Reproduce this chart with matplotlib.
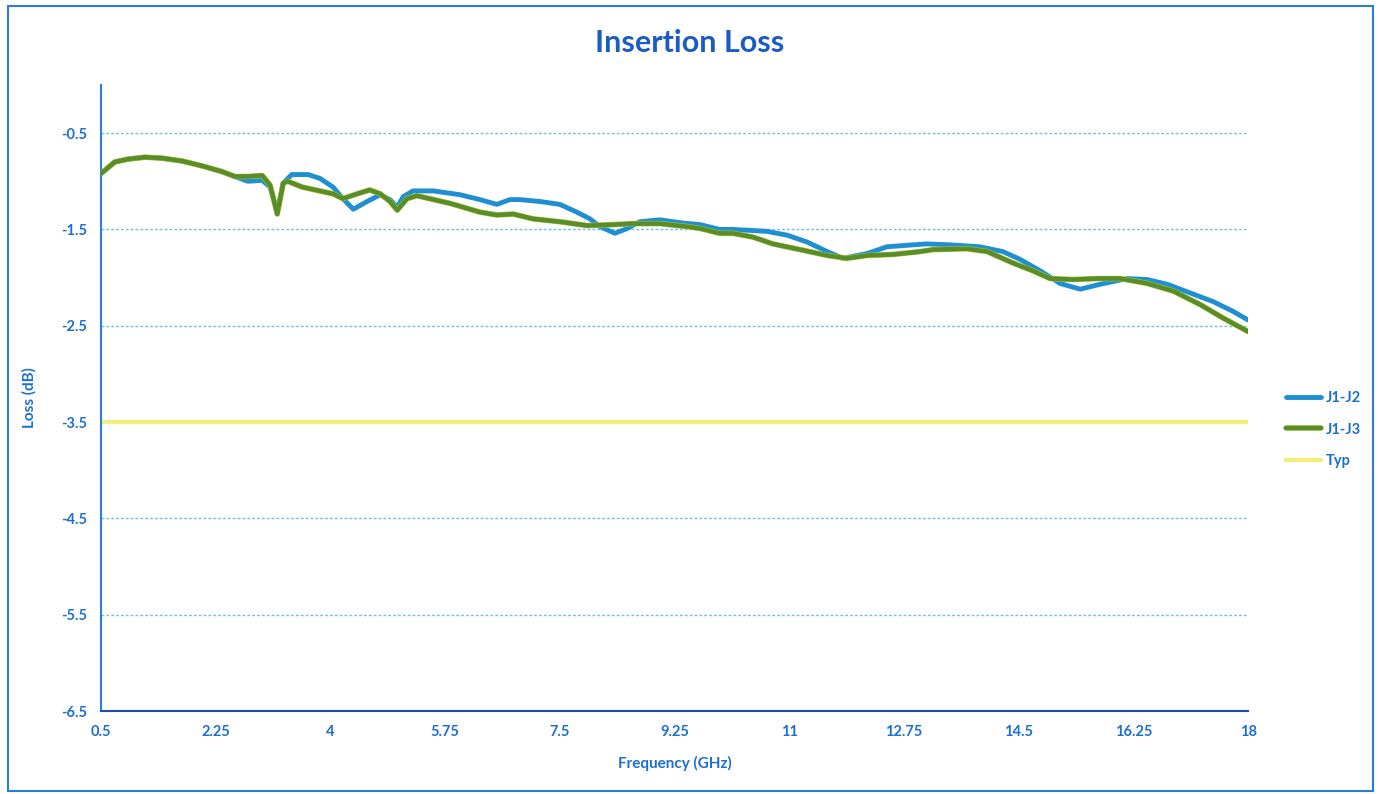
import matplotlib
matplotlib.use("Agg")
import matplotlib.pyplot as plt
from matplotlib.patches import Rectangle
import matplotlib.patheffects as pe

freq_j12 = [0.5, 0.71, 0.91, 1.17, 1.43, 1.74, 2.04, 2.35, 2.54, 2.74, 2.96, 3.08, 3.19, 3.28, 3.41,
            3.66, 3.84, 4.04, 4.19, 4.35, 4.56, 4.76, 4.91, 5.02, 5.11, 5.26, 5.57, 5.98, 6.28, 6.54,
            6.74, 6.89, 7.20, 7.50, 7.76, 7.96, 8.11, 8.34, 8.53, 8.72, 9.03, 9.33, 9.64, 9.94, 10.14,
            10.66, 10.97, 11.27, 11.58, 11.82, 12.19, 12.49, 12.89, 13.10, 13.45, 13.91, 14.26, 14.52,
            14.83, 15.13, 15.44, 15.74, 16.16, 16.46, 16.77, 17.12, 17.47, 17.77, 18.0]
loss_j12 = [-0.92, -0.80, -0.77, -0.75, -0.76, -0.79, -0.84, -0.90, -0.95, -1.00, -0.99, -1.06, -1.32,
            -1.02, -0.93, -0.93, -0.97, -1.06, -1.18, -1.29, -1.21, -1.14, -1.19, -1.27, -1.16, -1.10,
            -1.10, -1.14, -1.19, -1.24, -1.19, -1.19, -1.21, -1.24, -1.32, -1.39, -1.47, -1.54, -1.49,
            -1.42, -1.40, -1.43, -1.45, -1.50, -1.50, -1.52, -1.56, -1.63, -1.73, -1.80, -1.75, -1.68,
            -1.66, -1.65, -1.66, -1.68, -1.73, -1.81, -1.93, -2.06, -2.12, -2.07, -2.01, -2.02, -2.07,
            -2.16, -2.25, -2.35, -2.44]

freq_j13 = [0.5, 0.71, 0.91, 1.17, 1.43, 1.74, 2.04, 2.35, 2.54, 2.74, 2.96, 3.08, 3.19, 3.28, 3.35,
            3.57, 3.77, 4.04, 4.19, 4.41, 4.60, 4.76, 4.91, 5.02, 5.17, 5.32, 5.83, 6.28, 6.54, 6.79,
            7.09, 7.50, 7.92, 8.31, 8.62, 9.03, 9.44, 9.64, 9.94, 10.14, 10.45, 10.75, 11.17, 11.58,
            11.88, 12.19, 12.58, 13.00, 13.19, 13.71, 14.02, 14.42, 14.72, 14.98, 15.33, 15.70, 16.05,
            16.46, 16.86, 17.27, 17.62, 18.0]
loss_j13 = [-0.92, -0.80, -0.77, -0.75, -0.76, -0.79, -0.84, -0.90, -0.95, -0.95, -0.94, -1.04, -1.34,
            -1.02, -1.00, -1.06, -1.09, -1.13, -1.18, -1.13, -1.09, -1.13, -1.21, -1.30, -1.18, -1.15,
            -1.23, -1.32, -1.35, -1.34, -1.39, -1.42, -1.46, -1.45, -1.44, -1.44, -1.47, -1.49, -1.54,
            -1.54, -1.58, -1.65, -1.71, -1.77, -1.80, -1.77, -1.76, -1.73, -1.71, -1.70, -1.73, -1.85,
            -1.93, -2.01, -2.02, -2.01, -2.01, -2.06, -2.14, -2.28, -2.42, -2.56]

freq_typ = [0.5, 18]
loss_typ = [-3.5, -3.5]

x_ticks = [0.5, 2.25, 4, 5.75, 7.5, 9.25, 11, 12.75, 14.5, 16.25, 18]
x_tick_labels = ["0.5", "2.25", "4", "5.75", "7.5", "9.25", "11", "12.75", "14.5", "16.25", "18"]
y_ticks = [-0.5, -1.5, -2.5, -3.5, -4.5, -5.5, -6.5]
y_tick_labels = ["-0.5", "-1.5", "-2.5", "-3.5", "-4.5", "-5.5", "-6.5"]

plt.rcParams['font.family'] = ['Lato', 'DejaVu Sans']
txt_blue = '#1a6fd0'

fig = plt.figure(figsize=(13.87, 7.94), dpi=100)
fig.patch.set_facecolor('white')
fig.patches.append(Rectangle((0.006, 0.004), 0.984, 0.988, transform=fig.transFigure,
                             fill=False, edgecolor='#2a7fd4', linewidth=1.5))

ax = fig.add_axes([0.0728, 0.1045, 0.8270, 0.7885])
ax.set_xlim(0.5, 18)
ax.set_ylim(-6.5, 0)

ax.hlines(y_ticks[:-1], 0.5, 18, colors='#6cc0ee', linestyles=[(0, (2, 1.5))],
          linewidth=1.0, zorder=1)

ax.plot(freq_typ, loss_typ, color='#f4ef78', linewidth=3, label='Typ', zorder=2)
ax.plot(freq_j12, loss_j12, color='#1f8fd2', linewidth=3.5, label='J1-J2', zorder=3,
        solid_capstyle='round', solid_joinstyle='round')
ax.plot(freq_j13, loss_j13, color='#5b8c2a', linewidth=3.2, label='J1-J3', zorder=4,
        solid_capstyle='round', solid_joinstyle='round',
        path_effects=[pe.Stroke(linewidth=4, foreground='#a8c83a'), pe.Normal()])

ax.set_xticks(x_ticks)
ax.set_xticklabels(x_tick_labels)
ax.set_yticks(y_ticks)
ax.set_yticklabels(y_tick_labels)
ax.tick_params(axis='both', length=0, labelsize=10.5, labelcolor=txt_blue)
for lab in ax.get_xticklabels() + ax.get_yticklabels():
    lab.set_fontweight('bold')
ax.tick_params(axis='x', pad=10)
ax.tick_params(axis='y', pad=10)

for s in ['top', 'right']:
    ax.spines[s].set_visible(False)
ax.spines['left'].set_color('#2a7fd4')
ax.spines['left'].set_linewidth(1.5)
ax.spines['bottom'].set_color('#1a4fa8')
ax.spines['bottom'].set_linewidth(1.5)

ax.set_xlabel('Frequency (GHz)', fontsize=11, fontweight='bold', color=txt_blue, labelpad=12)
ax.set_ylabel('Loss (dB)', fontsize=11, fontweight='bold', color=txt_blue, labelpad=18)

fig.text(0.497, 0.946, 'Insertion Loss', ha='center', va='center', fontsize=22,
         fontweight='bold', color='#1a5cc4')

handles, labels = ax.get_legend_handles_labels()
order = [1, 2, 0]
leg = fig.legend([handles[i] for i in order], [labels[i] for i in order],
                 loc='center left', bbox_to_anchor=(0.918, 0.459), frameon=False,
                 fontsize=10.5, handlelength=2.4, handletextpad=0.3, labelspacing=1.2)
for t in leg.get_texts():
    t.set_color(txt_blue)
    t.set_fontweight('bold')

fig.savefig('out.png', dpi=100, facecolor='white')
